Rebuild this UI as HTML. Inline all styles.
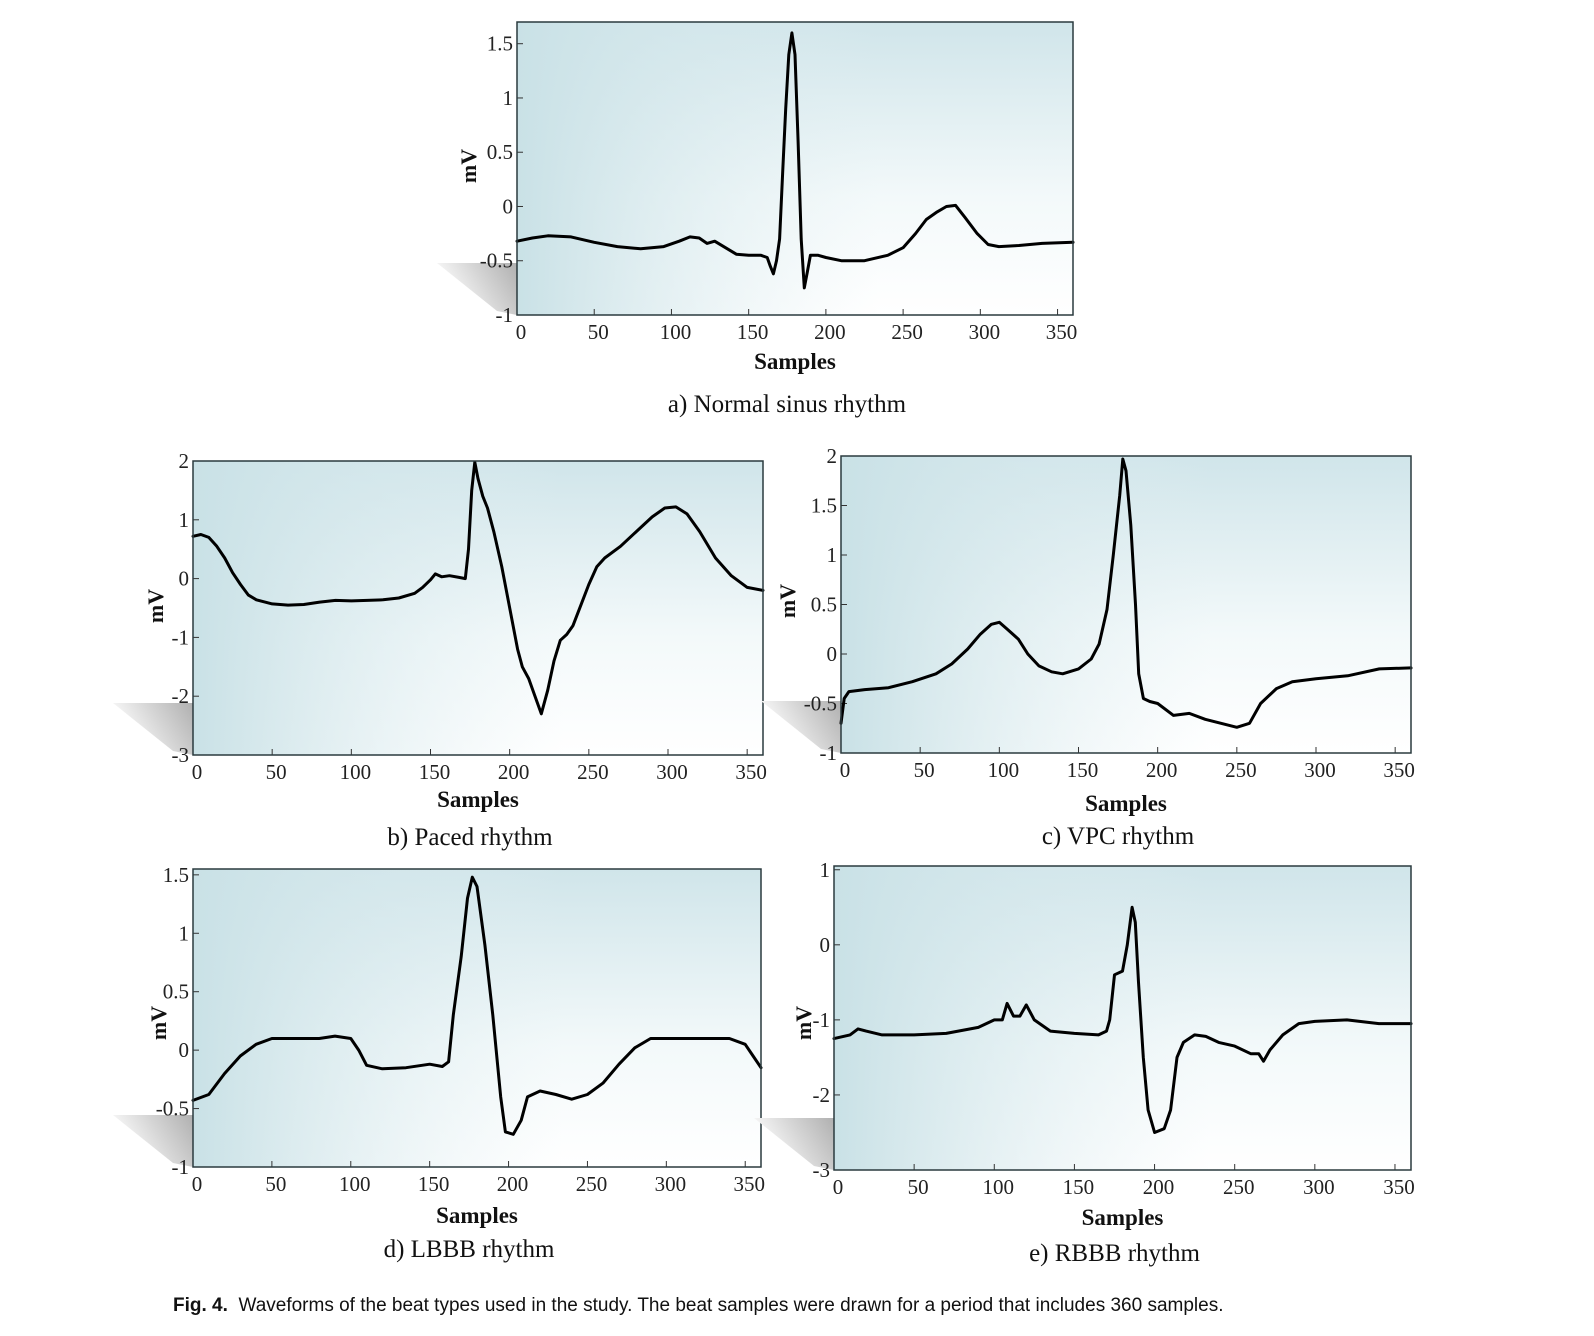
<!DOCTYPE html>
<html><head><meta charset="utf-8">
<style>
html,body{margin:0;padding:0;background:#fff;}
body{width:1594px;height:1336px;position:relative;overflow:hidden;}
svg{position:absolute;left:0;top:0;}
.cap{position:absolute;font-family:"Liberation Sans",sans-serif;font-size:19px;color:#111;left:173px;top:1295px;white-space:nowrap;}
</style></head>
<body>
<svg id="fig" width="1594" height="1336">
<defs>
<linearGradient id="bgH" x1="0" y1="0" x2="1" y2="0">
<stop offset="0" stop-color="#c9e1e6" stop-opacity="1"/>
<stop offset="0.65" stop-color="#e2eff2" stop-opacity="0"/>
</linearGradient>
<linearGradient id="bgV" x1="0" y1="0" x2="0" y2="1">
<stop offset="0" stop-color="#d0e5ea"/>
<stop offset="0.6" stop-color="#f3f9fa"/>
<stop offset="1" stop-color="#ffffff"/>
</linearGradient>
<linearGradient id="shadow" x1="1" y1="0" x2="0" y2="0.4">
<stop offset="0" stop-color="#b0b0b0"/>
<stop offset="0.5" stop-color="#d6d6d6"/>
<stop offset="1" stop-color="#ffffff"/>
</linearGradient>
</defs>
</svg>
<div class="cap"><b>Fig. 4.</b>&nbsp; Waveforms of the beat types used in the study. The beat samples were drawn for a period that includes 360 samples.</div>
<script>
// ---- data ----
const xA=[0,10,20,35,50,65,80,95,105,112,118,123,128,135,142,150,158,162,164,166,168,170,172,174,176,178,180,182,184,186,188,190,195,200,210,225,240,250,258,265,272,278,284,290,298,305,312,325,340,360];
const yA=[-0.32,-0.29,-0.27,-0.28,-0.33,-0.37,-0.39,-0.37,-0.32,-0.28,-0.29,-0.34,-0.32,-0.38,-0.44,-0.45,-0.45,-0.47,-0.55,-0.62,-0.5,-0.3,0.3,0.9,1.4,1.6,1.4,0.6,-0.3,-0.75,-0.6,-0.45,-0.45,-0.47,-0.5,-0.5,-0.45,-0.38,-0.25,-0.12,-0.05,0.0,0.01,-0.1,-0.25,-0.35,-0.37,-0.36,-0.34,-0.33];
const xB=[0,5,10,15,20,25,30,35,40,50,60,70,80,90,100,110,120,130,140,145,150,153,157,162,168,172,174,176,178,180,183,186,190,195,200,205,208,212,216,220,224,228,232,236,240,245,250,255,260,270,280,290,298,305,312,320,330,340,350,360];
const yB=[0.72,0.75,0.7,0.55,0.35,0.1,-0.1,-0.28,-0.36,-0.43,-0.45,-0.44,-0.4,-0.37,-0.38,-0.37,-0.36,-0.33,-0.25,-0.15,-0.02,0.08,0.03,0.05,0.02,0.0,0.5,1.5,1.98,1.7,1.4,1.2,0.8,0.2,-0.5,-1.2,-1.5,-1.7,-2.0,-2.3,-1.9,-1.4,-1.05,-0.95,-0.8,-0.45,-0.1,0.2,0.35,0.55,0.8,1.05,1.2,1.22,1.1,0.8,0.35,0.05,-0.15,-0.2];
const xC=[0,2,5,15,30,45,60,70,80,88,95,100,105,112,118,125,133,140,150,158,163,168,172,176,178,180,183,186,188,191,195,200,210,220,230,240,250,258,265,275,285,300,320,340,360];
const yC=[-0.7,-0.45,-0.38,-0.36,-0.34,-0.28,-0.2,-0.1,0.05,0.2,0.3,0.32,0.25,0.15,0.0,-0.12,-0.18,-0.2,-0.15,-0.05,0.1,0.45,1.0,1.6,1.97,1.85,1.3,0.5,-0.2,-0.45,-0.48,-0.5,-0.62,-0.6,-0.66,-0.7,-0.74,-0.7,-0.5,-0.35,-0.28,-0.25,-0.22,-0.15,-0.14];
const xD=[0,10,20,30,40,50,60,80,90,100,105,110,120,135,150,158,162,165,170,174,177,180,185,190,195,198,203,208,212,220,230,240,250,260,270,280,290,300,320,340,350,355,360];
const yD=[-0.43,-0.38,-0.2,-0.05,0.05,0.1,0.1,0.1,0.12,0.1,0.0,-0.13,-0.16,-0.15,-0.12,-0.14,-0.1,0.3,0.8,1.3,1.48,1.4,0.9,0.3,-0.4,-0.7,-0.72,-0.6,-0.4,-0.35,-0.38,-0.42,-0.38,-0.28,-0.12,0.02,0.1,0.1,0.1,0.1,0.05,-0.05,-0.15];
const xE=[0,10,15,20,30,50,70,90,100,105,108,112,116,120,125,135,150,165,170,172,175,180,183,186,188,190,193,196,200,206,210,214,218,225,232,240,250,260,265,268,272,280,290,300,320,340,360];
const yE=[-1.25,-1.2,-1.12,-1.15,-1.2,-1.2,-1.18,-1.1,-1.0,-1.0,-0.78,-0.95,-0.95,-0.8,-1.0,-1.15,-1.18,-1.2,-1.15,-1.0,-0.4,-0.35,0.0,0.5,0.3,-0.5,-1.5,-2.2,-2.5,-2.45,-2.2,-1.5,-1.3,-1.2,-1.22,-1.3,-1.35,-1.45,-1.45,-1.55,-1.4,-1.2,-1.05,-1.02,-1.0,-1.05,-1.05];
const xTicks=[0,50,100,150,200,250,300,350];
const yTicksA=[-1,-0.5,0,0.5,1,1.5];
const yTicksB=[-3,-2,-1,0,1,2];
const yTicksC=[-1,-0.5,0,0.5,1,1.5,2];
const yTicksD=[-1,-0.5,0,0.5,1,1.5];
const yTicksE=[-3,-2,-1,0,1];

const NS='http://www.w3.org/2000/svg';
const svg=document.getElementById('fig');
function mk(tag,attrs,parent){const e=document.createElementNS(NS,tag);for(const k in attrs)e.setAttribute(k,attrs[k]);(parent||svg).appendChild(e);return e;}

function panel(id,L,R,T,B,ymin,ymax,xs,ys,yTicks,mvX,mvY,sampY,capY,caption){
  const g=mk('g',{});
  
  
  const sx=v=>L+(v/360)*(R-L);
  const sy=v=>B-(v-ymin)/(ymax-ymin)*(B-T);
  const sh=mk('polygon',{points:`${L-80},${B-52} ${L},${B-52} ${L},${B} ${L-20},${B-4}`,fill:'url(#shadow)'},g);
  
  
  const bg=mk('rect',{x:L,y:T,width:R-L,height:B-T,fill:'url(#bgV)'},g);
  
  
  mk('rect',{x:L,y:T,width:R-L,height:B-T,fill:'url(#bgH)'},g);
  xTicks.forEach(t=>{
    const x=sx(t);
    mk('line',{x1:x,y1:B,x2:x,y2:B-6,stroke:'#333','stroke-width':1},g);
    const tx=mk('text',{x:x+4,y:B+24,'text-anchor':'middle','font-family':'Liberation Serif, serif','font-size':21,fill:'#222'},g);
    tx.textContent=t;
    
    
  });
  yTicks.forEach(t=>{
    const y=sy(t);
    mk('line',{x1:L,y1:y,x2:L+6,y2:y,stroke:'#333','stroke-width':1},g);
    const tx=mk('text',{x:L-4,y:y+7,'text-anchor':'end','font-family':'Liberation Serif, serif','font-size':21,fill:'#222'},g);
    tx.textContent=t;
    
    
  });
  let d='';
  xs.forEach((x,i)=>{d+=(i?'L':'M')+sx(x).toFixed(1)+','+sy(ys[i]).toFixed(1);});
  const p=mk('path',{d:d,fill:'none',stroke:'#000','stroke-width':3,'stroke-linejoin':'round','stroke-linecap':'round'},g);
  
  
  const fr=mk('rect',{x:L,y:T,width:R-L,height:B-T,fill:'none',stroke:'#2a3a3e','stroke-width':1.5},g);
  
  
  const mv=mk('text',{x:mvX,y:mvY,'text-anchor':'middle','font-family':'Liberation Serif, serif','font-size':22,'font-weight':'bold',fill:'#111',transform:`rotate(-90 ${mvX} ${mvY})`},g);
  mv.textContent='mV';
  
  
  const sm=mk('text',{x:(L+R)/2,y:sampY+8,'text-anchor':'middle','font-family':'Liberation Serif, serif','font-size':23,'font-weight':'bold',fill:'#111'},g);
  sm.textContent='Samples';
  
  
  const cp=mk('text',{x:(L+R)/2-8,y:capY+8,'text-anchor':'middle','font-family':'Liberation Serif, serif','font-size':25,fill:'#111'},g);
  cp.textContent=caption;
  
  
}
panel('a',517,1073,22,315,-1,1.7,xA,yA,yTicksA,476,166,361,404,'a) Normal sinus rhythm');
panel('b',193,763,461,755,-3,2,xB,yB,yTicksB,163,606,799,837,'b) Paced  rhythm');
panel('c',841,1411,456,753,-1,2,xC,yC,yTicksC,795,601,803,836,'c) VPC rhythm');
panel('d',193,761,869,1167,-1,1.55,xD,yD,yTicksD,166,1023,1215,1249,'d) LBBB rhythm');
panel('e',834,1411,866,1170,-3,1.05,xE,yE,yTicksE,811,1023,1217,1253,'e) RBBB rhythm');
</script>
</body></html>
